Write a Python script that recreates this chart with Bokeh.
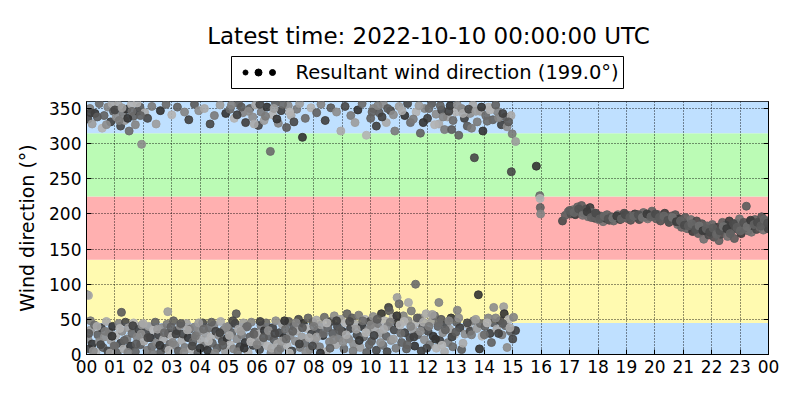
from bokeh.plotting import figure
from bokeh.layouts import column
from bokeh.models import (Range1d, FixedTicker, LinearAxis, ColumnDataSource, BoxAnnotation)
from bokeh.core.properties import value
from bokeh.embed import file_html
from bokeh.resources import INLINE

# ---------------- data (hours UTC, wind direction in degrees) ----------------
low_hours = [
    0.02, 0.05, 0.07, 0.1, 0.14, 0.15, 0.2, 0.28, 0.33, 0.4, 0.45, 0.52, 0.58, 0.63, 0.7, 0.75, 0.8, 0.86, 0.92, 0.97,
    1.03, 1.08, 1.14, 1.2, 1.23, 1.25, 1.31, 1.37, 1.42, 1.48, 1.55, 1.6, 1.66, 1.72, 1.78, 1.84, 1.9, 1.95,
    2.02, 2.08, 2.13, 2.19, 2.25, 2.3, 2.36, 2.42, 2.47, 2.53, 2.6, 2.65, 2.71, 2.77, 2.83, 2.86, 2.88, 2.94,
    3.0, 3.06, 3.12, 3.18, 3.23, 3.29, 3.35, 3.4, 3.46, 3.52, 3.58, 3.63, 3.69, 3.75, 3.8, 3.86, 3.92, 3.97,
    4.03, 4.09, 4.15, 4.2, 4.26, 4.32, 4.38, 4.43, 4.49, 4.55, 4.6, 4.66, 4.72, 4.78, 4.83, 4.89, 4.95,
    5.0, 5.06, 5.12, 5.18, 5.23, 5.27, 5.29, 5.35, 5.4, 5.46, 5.52, 5.58, 5.63, 5.69, 5.75, 5.8, 5.86, 5.92, 5.97,
    6.03, 6.09, 6.14, 6.2, 6.26, 6.32, 6.37, 6.43, 6.49, 6.55, 6.6, 6.66, 6.72, 6.78, 6.83, 6.89, 6.95,
    7.0, 7.06, 7.12, 7.17, 7.23, 7.29, 7.35, 7.4, 7.46, 7.52, 7.58, 7.63, 7.69, 7.75, 7.8, 7.86, 7.92, 7.97,
    8.03, 8.09, 8.14, 8.2, 8.26, 8.32, 8.37, 8.43, 8.49, 8.55, 8.6, 8.66, 8.72, 8.78, 8.83, 8.89, 8.95,
    9.0, 9.06, 9.12, 9.17, 9.23, 9.29, 9.35, 9.4, 9.46, 9.52, 9.58, 9.63, 9.69, 9.75, 9.8, 9.86, 9.92, 9.97,
    10.03, 10.09, 10.15, 10.2, 10.26, 10.32, 10.38, 10.43, 10.49, 10.55, 10.6, 10.63, 10.66, 10.72, 10.78, 10.83, 10.89, 10.93, 10.95,
    11.0, 11.03, 11.09, 11.15, 11.2, 11.26, 11.32, 11.33, 11.38, 11.43, 11.49, 11.55, 11.58, 11.6, 11.66, 11.72, 11.78, 11.83, 11.89, 11.95,
    12.02, 12.08, 12.14, 12.2, 12.25, 12.31, 12.37, 12.4, 12.43, 12.48, 12.54, 12.6, 12.66, 12.72, 12.78, 12.83, 12.89, 12.95,
    13.02, 13.05, 13.14, 13.2, 13.32, 13.44, 13.5, 13.62, 13.74, 13.79, 13.86, 13.92,
    14.02, 14.14, 14.2, 14.32, 14.33, 14.44, 14.56, 14.62, 14.68, 14.7, 14.74, 14.86, 14.92, 15.03, 15.1,
]
low_dirs = [
    85, 22, 84, 8, 48, 35, 15, 42, 3, 28, 18, 38, 10, 25, 47, 5, 32, 20, 40, 12,
    27, 2, 44, 16, 60, 33, 8, 46, 22, 38, 12, 30, 45, 4, 25, 36, 14, 42,
    19, 31, 6, 40, 24, 11, 35, 46, 17, 28, 3, 38, 22, 9, 43, 61, 30, 15,
    26, 48, 13, 34, 5, 41, 20, 29, 10, 44, 24, 36, 7, 18, 39, 27, 2, 33,
    21, 45, 12, 30, 6, 38, 25, 16, 42, 33, 9, 27, 47, 19, 35, 4, 23,
    40, 14, 31, 8, 44, 58, 22, 36, 11, 28, 45, 17, 39, 3, 25, 46, 13, 32, 20,
    29, 7, 41, 18, 34, 45, 12, 26, 2, 38, 21, 48, 15, 31, 9, 43, 24,
    36, 13, 47, 27, 5, 40, 19, 33, 50, 10, 25, 44, 16, 37, 52, 7, 29, 46,
    20, 49, 35, 11, 42, 27, 53, 4, 38, 18, 47, 30, 55, 14, 40, 24, 50,
    33, 8, 45, 58, 22, 37, 52, 15, 43, 28, 56, 10, 40, 25, 50, 3, 35, 47,
    19, 54, 38, 6, 44, 30, 58, 13, 48, 26, 40, 67, 62, 20, 52, 35, 9, 81, 45,
    72, 42, 17, 55, 31, 8, 48, 74, 24, 62, 36, 12, 100, 45, 28, 52, 5, 39, 21, 58,
    33, 14, 47, 26, 55, 9, 40, 74, 20, 50, 31, 4, 43, 17, 36, 52, 11, 28,
    46, 63, 38, 7, 29, 42, 33, 48, 37, 85, 44, 26,
    40, 52, 30, 45, 67, 36, 48, 28, 68, 58, 41, 50, 33, 53, 34,
]
low2_hours = [
    0.08, 0.24, 0.37, 0.5, 0.66, 0.83, 0.9, 1.0, 1.17, 1.33, 1.46, 1.63, 1.75, 1.92,
    2.0, 2.16, 2.33, 2.5, 2.58, 2.74, 2.9, 2.97, 3.03, 3.15, 3.32, 3.43, 3.55, 3.72, 3.83, 3.95,
    4.0, 4.12, 4.29, 4.4, 4.52, 4.69, 4.8, 4.92, 5.03, 5.15, 5.32, 5.43, 5.55, 5.66, 5.78, 5.89,
    6.0, 6.11, 6.23, 6.4, 6.52, 6.63, 6.75, 6.86, 6.97, 7.03, 7.14, 7.26, 7.38, 7.49, 7.6, 7.72, 7.83, 7.95,
    8.0, 8.11, 8.23, 8.34, 8.46, 8.57, 8.69, 8.8, 8.92, 9.03, 9.14, 9.26, 9.38, 9.49, 9.6, 9.72, 9.83, 9.95,
    10.0, 10.12, 10.23, 10.35, 10.46, 10.58, 10.69, 10.8, 10.92, 11.06, 11.18, 11.29, 11.41, 11.52, 11.64, 11.75, 11.86, 11.97,
    12.05, 12.17, 12.28, 12.4, 12.51, 12.63, 12.75, 12.86, 13.0, 13.1, 13.25, 13.4, 13.55, 13.7, 13.83,
    14.0, 14.1, 14.25, 14.4, 14.5, 14.65, 14.8, 14.9, 15.0,
]
low2_dirs = [
    30, 5, 40, 14, 33, 2, 26, 12, 37, 20, 3, 41, 15, 29,
    44, 24, 1, 36, 13, 31, 6, 39, 17, 29, 44, 3, 35, 12, 26, 45,
    9, 36, 19, 46, 2, 31, 13, 39, 27, 48, 4, 33, 9, 40, 18, 29,
    14, 47, 24, 34, 9, 30, 5, 19, 48, 22, 2, 33, 45, 15, 38, 3, 24, 12,
    40, 25, 2, 30, 45, 9, 21, 48, 34, 18, 28, 47, 5, 36, 20, 48, 31, 14,
    42, 27, 50, 17, 36, 4, 46, 22, 55, 30, 47, 14, 40, 25, 52, 33, 46, 9,
    40, 57, 22, 45, 13, 35, 48, 25, 32, 52, 16, 45, 28, 50, 8,
    28, 45, 17, 52, 30, 44, 10, 38, 22,
]

high_hours = [
    0.05, 0.12, 0.2, 0.3, 0.45, 0.55, 0.62, 0.75, 0.85, 0.95, 1.05, 1.12, 1.2, 1.28, 1.35, 1.42, 1.5, 1.58,
    1.65, 1.72, 1.8, 1.88, 1.94, 2.05, 2.15, 2.3, 2.45, 2.6, 2.8, 3.0, 3.2, 3.45, 3.6, 3.8, 3.95, 4.15,
    4.35, 4.5, 4.7, 4.9, 5.05, 5.2, 5.35, 5.5, 5.6, 5.75, 5.85, 5.95, 6.05, 6.15, 6.25, 6.35, 6.47, 6.55,
    6.65, 6.75, 6.85, 7.04, 7.1, 7.2, 7.3, 7.4, 7.5, 7.6, 7.7, 7.9, 8.1, 8.25, 8.4, 8.6, 8.8, 8.95,
    9.1, 9.3, 9.45, 9.55, 9.7, 9.85, 10.0, 10.1, 10.2, 10.3, 10.45, 10.55, 10.7, 10.85, 11.0, 11.2,
    11.4, 11.6, 11.75, 11.9, 12.0, 12.15, 12.3, 12.4, 12.5, 12.6, 12.7, 12.8, 12.9, 13.0, 13.1, 13.2,
    13.3, 13.4, 13.5, 13.6, 13.65, 13.75, 13.85, 13.95, 14.05, 14.15, 14.3, 14.45, 14.6, 14.75, 14.8,
    14.94, 14.95, 14.98, 15.1, 15.83, 15.95, 15.96, 15.97, 15.98,
    0.15, 0.38, 0.7, 0.9, 1.0, 1.15, 1.25, 1.45, 1.6, 1.78, 1.9,
    5.1, 5.3, 5.45, 5.7, 5.9, 6.1, 6.3, 6.6, 6.7, 6.9, 7.15,
    10.05, 10.25, 10.4, 10.6, 10.8, 11.1, 11.3, 11.5, 11.7, 11.85,
    12.05, 12.25, 12.45, 12.55, 12.75, 12.85, 13.05, 13.25, 13.45, 13.55, 13.7, 13.9,
    14.1, 14.2, 14.4, 14.5, 14.65, 14.85,
]
high_dirs = [
    335, 350, 328, 343, 357, 322, 340, 352, 331, 346, 338, 355, 325, 344, 333, 349, 318, 356,
    339, 327, 346, 352, 299, 344, 336, 353, 328, 347, 356, 341, 352, 345, 334, 356, 347, 350,
    328, 340, 355, 343, 349, 336, 357, 344, 330, 350, 338, 355, 326, 345, 333, 352, 289, 341,
    358, 329, 347, 323, 354, 340, 331, 349, 357, 309, 336, 351, 344, 356, 333, 351, 345, 318,
    353, 340, 330, 348, 357, 312, 336, 350, 325, 344, 356, 330, 347, 318, 353, 340,
    330, 345, 315, 350, 336, 357, 342, 328, 348, 320, 338, 354, 333, 345, 312, 350,
    336, 325, 343, 355, 280, 331, 346, 318, 340, 352, 334, 346, 327, 338, 324,
    340, 260, 314, 303, 268, 226, 222, 209, 200,
    344, 338, 327, 357, 348, 333, 351, 336, 346, 358, 340,
    355, 341, 352, 346, 328, 356, 339, 350, 335, 356, 345,
    345, 354, 338, 350, 341, 347, 357, 335, 354, 330,
    350, 327, 354, 338, 346, 320, 355, 343, 349, 322, 346, 352,
    332, 348, 355, 337, 343, 331,
]

band_hours = [
    16.75, 16.85, 16.95, 17.05, 17.12, 17.2, 17.28, 17.35, 17.42, 17.5, 17.58, 17.65, 17.72, 17.8, 17.88, 17.95,
    18.02, 18.1, 18.18, 18.25, 18.32, 18.4, 18.48, 18.55, 18.62, 18.7, 18.78, 18.85, 18.92, 19.0, 19.08, 19.15,
    19.22, 19.3, 19.38, 19.45, 19.52, 19.6, 19.68, 19.75, 19.82, 19.9, 19.97, 20.05, 20.12, 20.2, 20.28, 20.35,
    20.42, 20.5, 20.58, 20.65, 20.72, 20.8, 20.87, 20.94, 21.0, 21.07, 21.14, 21.2, 21.27, 21.33, 21.4, 21.47,
    21.53, 21.6, 21.66, 21.72, 21.78, 21.84, 21.9, 21.96, 22.02, 22.08, 22.14, 22.2, 22.26, 22.32, 22.38, 22.44,
    22.5, 22.56, 22.62, 22.68, 22.74, 22.8, 22.86, 22.92, 22.98, 23.04, 23.1, 23.16, 23.22, 23.28, 23.34, 23.4,
    23.46, 23.52, 23.58, 23.64, 23.7, 23.76, 23.82, 23.88, 23.94, 23.99,
    17.0, 17.16, 17.32, 17.46, 17.62, 17.76, 17.92, 18.06, 18.22, 18.36, 18.52, 18.66, 18.82, 18.96, 19.12, 19.26,
    19.42, 19.56, 19.72, 19.86, 20.02, 20.16, 20.32, 20.46, 20.62, 20.76, 20.9, 21.04, 21.18, 21.3, 21.44, 21.56,
    21.69, 21.81, 21.93, 22.05, 22.17, 22.29, 22.41, 22.53, 22.65, 22.77, 22.89, 23.01, 23.13, 23.25, 23.37, 23.49,
    23.61, 23.73, 23.85, 23.97,
]
band_dirs = [
    190, 198, 203, 200, 206, 199, 210, 204, 212, 201, 207, 196, 209, 202, 194, 199,
    192, 197, 189, 194, 199, 191, 196, 190, 195, 199, 192, 196, 201, 194, 198, 191,
    196, 200, 195, 192, 198, 202, 196, 193, 199, 204, 197, 193, 199, 190, 196, 201,
    194, 188, 197, 192, 199, 185, 193, 181, 188, 195, 179, 186, 192, 175, 183, 190,
    172, 180, 186, 164, 176, 183, 170, 178, 185, 167, 174, 181, 162, 171, 188, 177,
    184, 168, 190, 175, 182, 165, 187, 178, 193, 172, 185, 180, 211, 176, 189, 174,
    183, 192, 178, 186, 181, 196, 177, 190, 184, 179,
    205, 202, 207, 198, 203, 195, 201, 193, 197, 193, 194, 197, 193, 199, 195, 197,
    199, 195, 200, 196, 200, 195, 197, 191, 195, 189, 190, 184, 183, 186, 178, 183,
    176, 179, 174, 180, 171, 176, 182, 179, 172, 186, 181, 176, 188, 182, 191, 185,
    188, 183, 192, 187,
]

resultant_label = "Resultant wind direction (199.0°)"
title_text = "Latest time: 2022-10-10 00:00:00 UTC"
hour_ticks = list(range(0, 25))
hour_labels = ["%02d" % (h % 24) for h in hour_ticks]
dir_ticks = [0, 50, 100, 150, 200, 250, 300, 350]
sector_edges = [0, 45, 135, 225, 315, 360]
sector_colors = ["#bfe0ff", "#fffab0", "#ffb0b0", "#bbfbb5", "#bfe0ff"]

light_grays = ["#5a5a5a", "#8c8c8c", "#a8a8a8", "#474747", "#7a7a7a", "#9c9c9c",
               "#333333", "#6a6a6a", "#b2b2b2", "#606060", "#838383", "#3f3f3f"]
dark_grays = ["#4a4a4a", "#5c5c5c", "#666666", "#525252", "#707070", "#3c3c3c", "#606060"]

W = 784
HEAD_H = 100
FRAME_L = 86
FRAME_R = 768

# ---------------- header: title + legend box (pixel coordinates of the page) ----------------
head = figure(width=W, height=HEAD_H, output_backend="svg", toolbar_location=None,
              x_range=Range1d(FRAME_L, FRAME_R), y_range=Range1d(HEAD_H, 0),
              x_axis_type=None, y_axis_type=None, min_border=0)
head.outline_line_color = None
head.grid.visible = False
head.text(x=[428], y=[35], text=[title_text], text_font=value("DejaVu Sans"),
          text_font_size="23px", text_align="center", text_baseline="middle", text_color="black")
head.quad(left=[231], right=[623], top=[56], bottom=[88], fill_color="white",
          line_color="black", line_width=1)
head.scatter(x=[245, 258, 272], y=[72, 72, 72], size=[5, 7, 6], color="black")
head.text(x=[295], y=[72], text=[resultant_label], text_font=value("DejaVu Sans"),
          text_font_size="19.5px", text_align="left", text_baseline="middle", text_color="black")

# ---------------- main plot ----------------
p = figure(width=W, height=284, output_backend="svg", toolbar_location=None,
           x_range=Range1d(0, 24), y_range=Range1d(0, 360),
           min_border_left=FRAME_L, min_border_right=W - FRAME_R, min_border_top=1, min_border_bottom=30,
           background_fill_color="white", border_fill_color="white")
p.outline_line_color = "black"
p.outline_line_width = 1

for i in range(len(sector_colors)):
    p.add_layout(BoxAnnotation(bottom=sector_edges[i], top=sector_edges[i + 1],
                               fill_color=sector_colors[i], fill_alpha=1.0,
                               line_color=None, level="image"))


def cols(n, pal):
    return [pal[i % len(pal)] for i in range(n)]


src_low = ColumnDataSource(dict(x=low_hours + low2_hours, y=low_dirs + low2_dirs,
                                c=cols(len(low_hours) + len(low2_hours), light_grays)))
src_high = ColumnDataSource(dict(x=high_hours, y=high_dirs,
                                 c=cols(len(high_hours), light_grays[3:] + light_grays[:3])))
src_band = ColumnDataSource(dict(x=band_hours, y=band_dirs, c=cols(len(band_hours), dark_grays)))
for s in (src_low, src_high, src_band):
    p.scatter("x", "y", source=s, size=8, fill_color="c", line_color="c", fill_alpha=0.9, line_alpha=0.9)

# axes
for ax in (p.xaxis[0], p.yaxis[0]):
    ax.axis_line_color = "black"
    ax.major_tick_in = 5
    ax.major_tick_out = 0
    ax.minor_tick_line_color = None
    ax.major_tick_line_color = "black"
    ax.major_label_text_font = "DejaVu Sans"
    ax.major_label_text_font_size = "17px"
    ax.major_label_text_color = "black"
    ax.major_label_standoff = 5

p.xaxis.ticker = FixedTicker(ticks=hour_ticks)
p.xaxis.major_label_overrides = {h: lab for h, lab in zip(hour_ticks, hour_labels)}
p.yaxis.ticker = FixedTicker(ticks=dir_ticks)
p.yaxis.axis_label = "Wind direction (°)"
p.yaxis.axis_label_text_font = "DejaVu Sans"
p.yaxis.axis_label_text_font_style = "normal"
p.yaxis.axis_label_text_font_size = "19px"
p.yaxis.axis_label_text_color = "black"
p.yaxis.axis_label_standoff = 8

rax = LinearAxis(ticker=FixedTicker(ticks=dir_ticks), major_tick_in=5, major_tick_out=0,
                 minor_tick_line_color=None, major_label_text_color=None,
                 major_label_text_font_size="1px", major_label_standoff=0,
                 axis_line_color="black")
p.add_layout(rax, "right")

# grid
p.xgrid.ticker = FixedTicker(ticks=hour_ticks)
p.ygrid.ticker = FixedTicker(ticks=dir_ticks)
for g in (p.xgrid[0], p.ygrid[0]):
    g.grid_line_color = "black"
    g.grid_line_dash = "1 2"
    g.grid_line_width = 1
    g.grid_line_alpha = 0.85
    g.level = "underlay"

layout = column(head, p, spacing=0)
open("out.html", "w").write(file_html(layout, INLINE))
